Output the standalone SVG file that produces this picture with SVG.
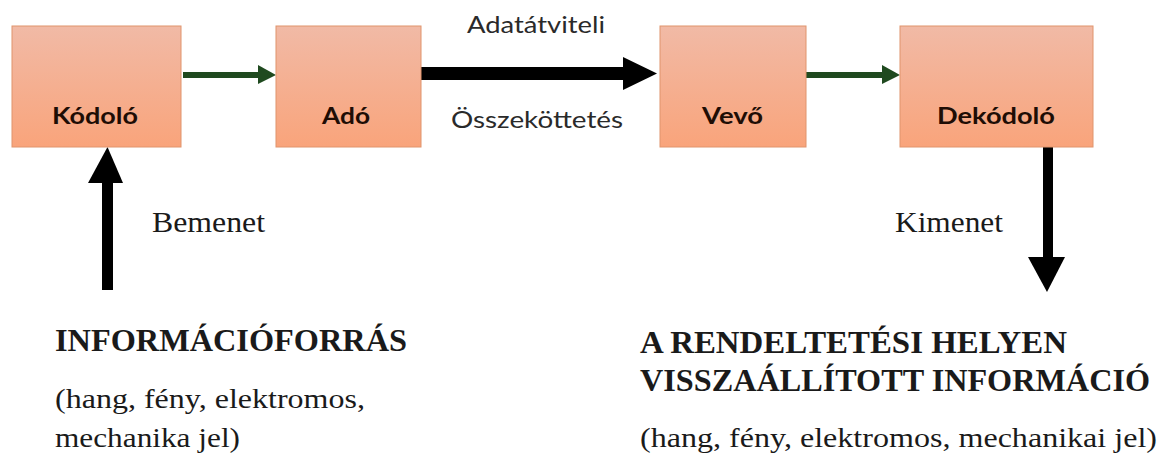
<svg xmlns="http://www.w3.org/2000/svg" width="1164" height="461" viewBox="0 0 1164 461">
<defs>
<linearGradient id="boxg" x1="0" y1="0" x2="0" y2="1">
<stop offset="0" stop-color="#f1baa6"/>
<stop offset="1" stop-color="#f9a47b"/>
</linearGradient>
<style>
.box{fill:url(#boxg);stroke:#e0946c;stroke-width:1}
.blab{font-family:Lato,"Open Sans",sans-serif;font-weight:bold;font-size:23px;fill:#1e0d05;text-anchor:middle}
.slab{font-family:Lato,"Open Sans",sans-serif;font-size:24px;fill:#2a2a2a}
.ser{font-family:"Liberation Serif","DejaVu Serif",serif;font-size:29px;fill:#1a1a1a}
.serb{font-family:"Liberation Serif","DejaVu Serif",serif;font-size:32px;font-weight:bold;fill:#1a1a1a}
.ser2{font-family:"Liberation Serif","DejaVu Serif",serif;font-size:27px;fill:#1a1a1a}
.green{fill:#1f4a1f}
.blk{fill:#000}
</style>
</defs>
<rect width="1164" height="461" fill="#fff"/>
<g id="connectors">
<rect class="green" x="183" y="72" width="76" height="6"/>
<polygon class="green" points="258,65 276,75 258,84"/>
<rect class="green" x="806" y="72" width="77" height="6"/>
<polygon class="green" points="882,65 900,75 882,84"/>
<rect class="blk" x="421" y="67" width="203" height="13"/>
<polygon class="blk" points="623,57 657,73.5 623,90"/>
<rect class="blk" x="102" y="182" width="11" height="108"/>
<polygon class="blk" points="88,183 107.5,147 123,183"/>
<rect class="blk" x="1043" y="147" width="10" height="111"/>
<polygon class="blk" points="1028,257 1065,257 1047,292"/>
</g>
<g id="node-kodolo">
<rect class="box" x="12" y="26" width="169" height="121"/>
<text class="blab" x="95" y="124" textLength="86" lengthAdjust="spacingAndGlyphs">Kódoló</text>
</g>
<g id="node-ado">
<rect class="box" x="276" y="26" width="145" height="121"/>
<text class="blab" x="346" y="124" textLength="48" lengthAdjust="spacingAndGlyphs">Adó</text>
</g>
<g id="node-vevo">
<rect class="box" x="660" y="26" width="146" height="121"/>
<text class="blab" x="732.5" y="124" textLength="61" lengthAdjust="spacingAndGlyphs">Vevő</text>
</g>
<g id="node-dekodolo">
<rect class="box" x="900" y="26" width="193" height="121"/>
<text class="blab" x="996" y="124" textLength="118" lengthAdjust="spacingAndGlyphs">Dekódoló</text>
</g>
<g id="labels">
<text class="slab" x="467" y="33" textLength="138" lengthAdjust="spacingAndGlyphs">Adatátviteli</text>
<text class="slab" x="451" y="128" textLength="172" lengthAdjust="spacingAndGlyphs">Összeköttetés</text>
<text class="ser" x="152" y="232" textLength="113" lengthAdjust="spacingAndGlyphs">Bemenet</text>
<text class="ser" x="895" y="232" textLength="108" lengthAdjust="spacingAndGlyphs">Kimenet</text>
</g>
<g id="node-source">
<text class="serb" x="55" y="351" textLength="352" lengthAdjust="spacingAndGlyphs">INFORMÁCIÓFORRÁS</text>
<text class="ser2" x="55" y="408" textLength="310" lengthAdjust="spacingAndGlyphs">(hang, fény, elektromos,</text>
<text class="ser2" x="55" y="447" textLength="185" lengthAdjust="spacingAndGlyphs">mechanika jel)</text>
</g>
<g id="node-destination">
<text class="serb" x="640" y="353" textLength="427" lengthAdjust="spacingAndGlyphs">A RENDELTETÉSI HELYEN</text>
<text class="serb" x="640" y="391" textLength="510" lengthAdjust="spacingAndGlyphs">VISSZAÁLLÍTOTT INFORMÁCIÓ</text>
<text class="ser2" x="640" y="447" textLength="517" lengthAdjust="spacingAndGlyphs">(hang, fény, elektromos, mechanikai jel)</text>
</g>
</svg>
